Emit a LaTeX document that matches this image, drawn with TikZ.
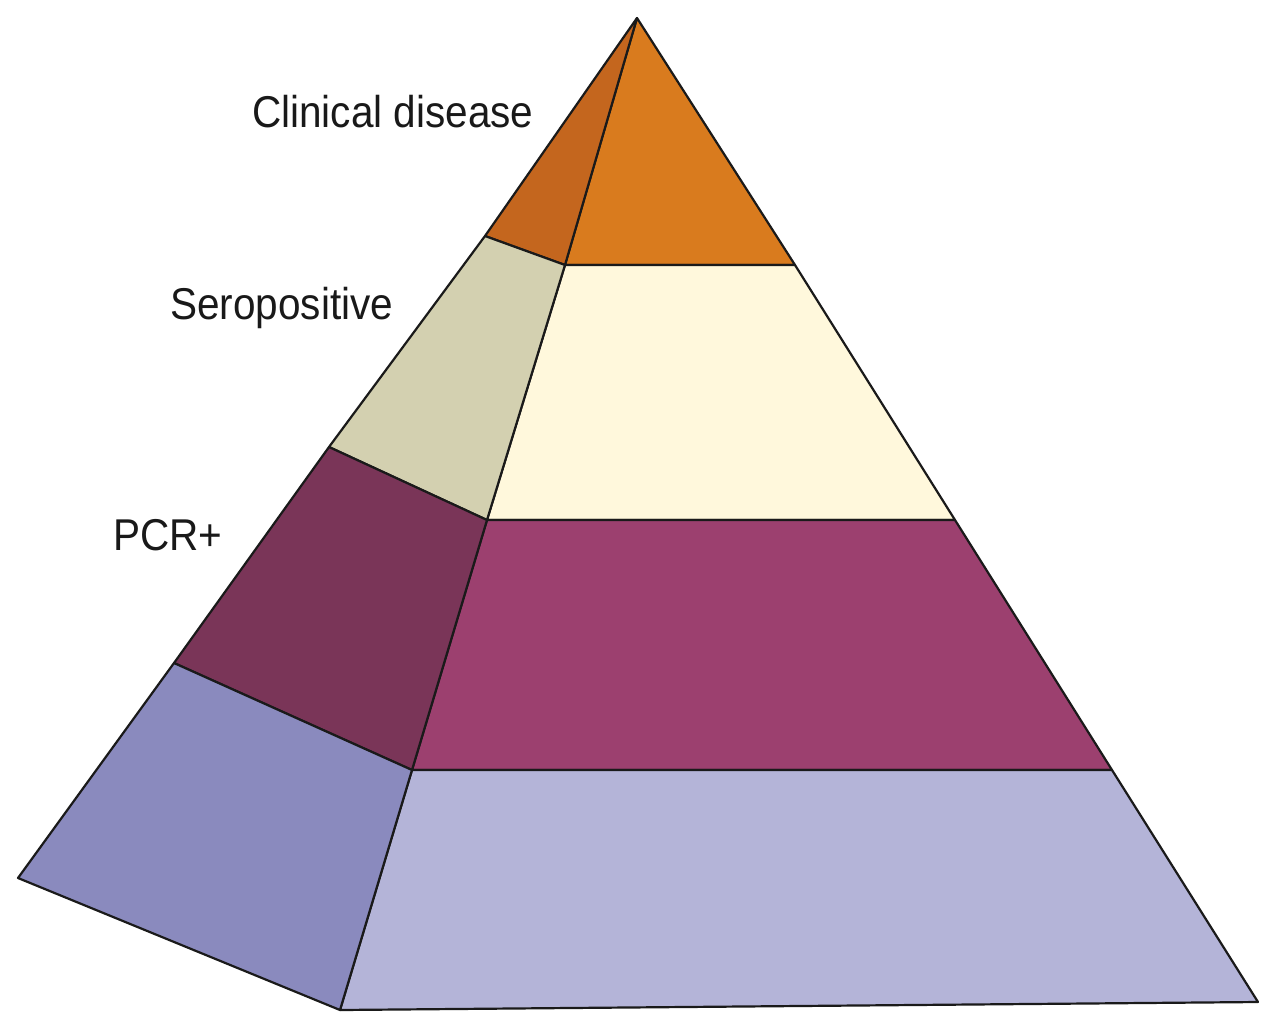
\documentclass[tikz,border=0pt]{standalone}
\usepackage{fontspec}
\setmainfont{Liberation Sans}
\definecolor{orF}{HTML}{D97B1E}
\definecolor{orL}{HTML}{C4661E}
\definecolor{crF}{HTML}{FFF8DC}
\definecolor{crL}{HTML}{D3D0B0}
\definecolor{mgF}{HTML}{9C406F}
\definecolor{mgL}{HTML}{7A3558}
\definecolor{blF}{HTML}{B4B4D8}
\definecolor{blL}{HTML}{8A8ABE}
\definecolor{edge}{HTML}{1A1A1A}
\tikzset{face/.style={draw=edge,line width=2.2pt,line join=round},
  lbl/.style={anchor=base west,inner sep=0pt,font=\fontsize{40.5}{44}\selectfont,text=black!90,yscale=1.1,transform shape}}
\begin{document}
\begin{tikzpicture}[x=1pt,y=-1pt]
\useasboundingbox (0,0) rectangle (1261,1013);
% key points
\coordinate (A) at (637,18);
\coordinate (F1) at (565,265); \coordinate (R1) at (795,265); \coordinate (L1) at (485,236);
\coordinate (F2) at (487,520); \coordinate (R2) at (955,520); \coordinate (L2) at (329,447);
\coordinate (F3) at (412,770); \coordinate (R3) at (1112,770); \coordinate (L3) at (174,663);
\coordinate (F4) at (340,1010); \coordinate (R4) at (1258,1002); \coordinate (L4) at (18,878);
% front face
\filldraw[face,fill=orF] (A) -- (R1) -- (F1) -- cycle;
\filldraw[face,fill=crF] (F1) -- (R1) -- (R2) -- (F2) -- cycle;
\filldraw[face,fill=mgF] (F2) -- (R2) -- (R3) -- (F3) -- cycle;
\filldraw[face,fill=blF] (F3) -- (R3) -- (R4) -- (F4) -- cycle;
% left face
\filldraw[face,fill=orL] (A) -- (F1) -- (L1) -- cycle;
\filldraw[face,fill=crL] (L1) -- (F1) -- (F2) -- (L2) -- cycle;
\filldraw[face,fill=mgL] (L2) -- (F2) -- (F3) -- (L3) -- cycle;
\filldraw[face,fill=blL] (L3) -- (F3) -- (F4) -- (L4) -- cycle;
% labels
\node[lbl] (clin) at (252,127) {Clinical disease};
\node[lbl] (sero) at (170,319) {Seropositive};
\node[lbl] (pcr) at (113,550) {PCR+};
\end{tikzpicture}
\end{document}
